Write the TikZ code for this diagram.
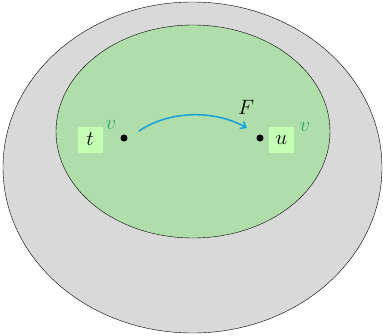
\documentclass[tikz,border=0pt]{standalone}
\usetikzlibrary{arrows.meta}
\definecolor{outerg}{RGB}{217,217,217}
\definecolor{innerg}{RGB}{176,222,170}
\definecolor{boxg}{RGB}{196,255,180}
\definecolor{vg}{RGB}{40,170,90}
\definecolor{arr}{RGB}{20,160,220}
\tikzset{
  big/.style={font=\fontsize{20}{22}\selectfont},
  lbl/.style={big, fill=boxg, minimum width=25pt, minimum height=26pt, inner sep=0pt},
  vlab/.style={big, text=vg, inner sep=0pt},
  dotn/.style={circle, fill=black, inner sep=0pt, minimum size=7pt}
}
\begin{document}
\begin{tikzpicture}[x=1pt,y=1pt]
\useasboundingbox (0,0) rectangle (383,-335);
\draw[fill=outerg] (192.5,-167.5) ellipse [x radius=189.5, y radius=165.5];
\draw[fill=innerg] (193,-131.5) ellipse [x radius=137, y radius=106.5];
\node[dotn] (t) at (124,-138) {};
\node[dotn] (u) at (260,-138) {};
\node[lbl] (tl) at (90,-139.5) {$t$};
\node[lbl] (ul) at (281.5,-140) {$u$};
\node[vlab] (tv) at (111,-125) {$v$};
\node[vlab] (uv) at (305,-127) {$v$};
\draw[arr, line width=1.5pt, -{Straight Barb[length=5pt,width=8pt]}] (139,-131) .. controls (170,-110) and (215,-110) .. (247,-128) coordinate (ae);
\node[big] (F) at (246,-107) {$F$};
\end{tikzpicture}
\end{document}
